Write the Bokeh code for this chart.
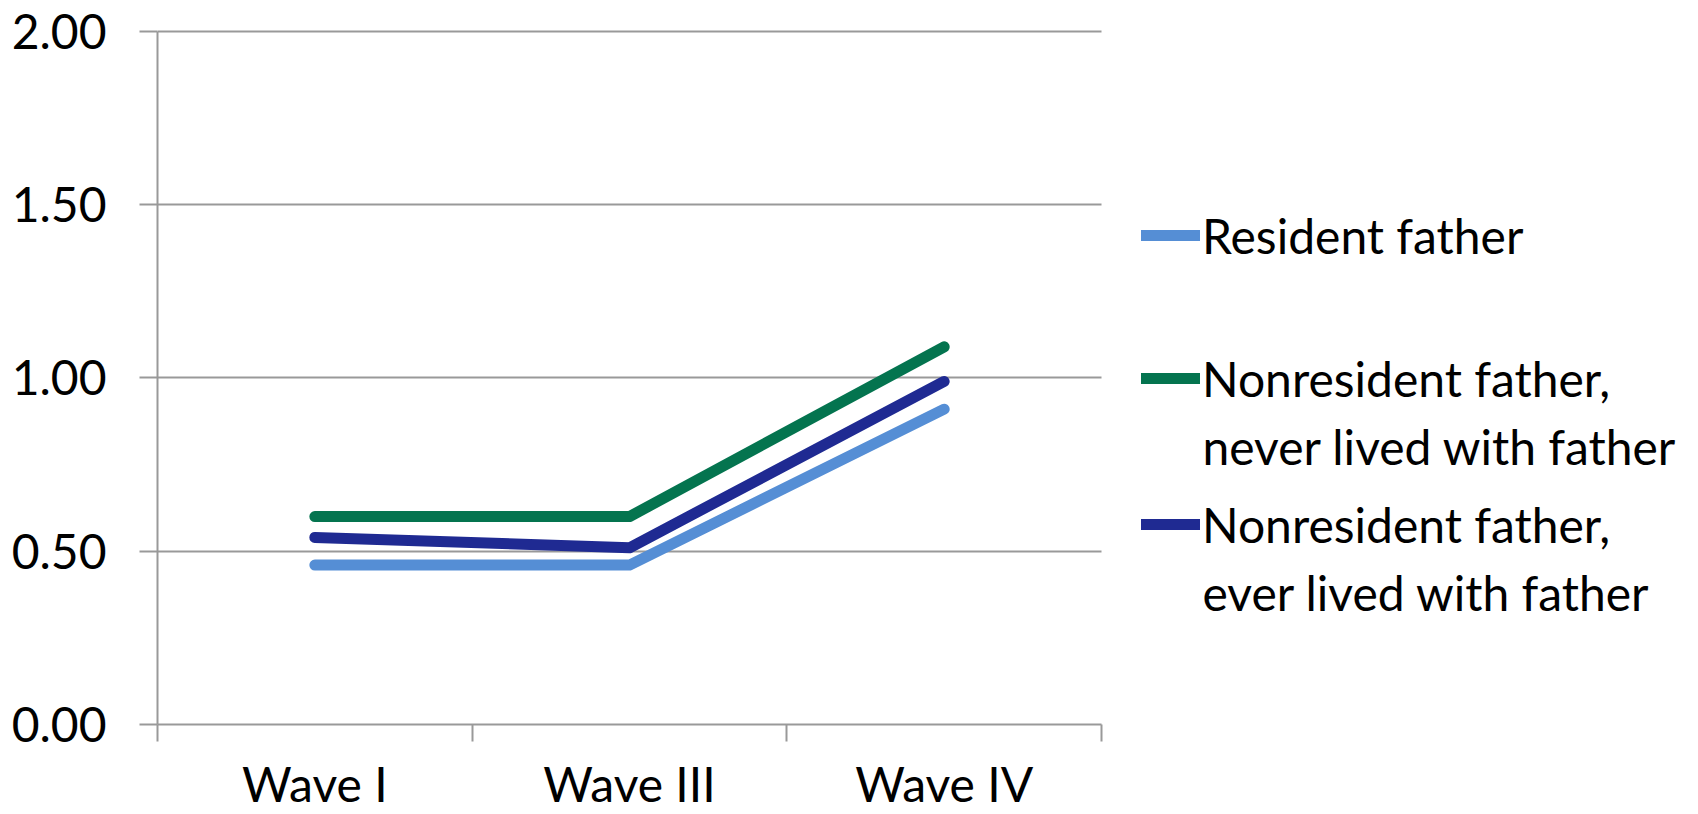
from bokeh.plotting import figure
from bokeh.models import Range1d, FixedTicker, Legend, LegendItem, Label, NumeralTickFormatter
from bokeh.embed import file_html
from bokeh.resources import INLINE

# Mean scores by survey wave for each father-residence group
waves = ["Wave I", "Wave III", "Wave IV"]
resident = [0.46, 0.46, 0.91]
never_lived = [0.60, 0.60, 1.09]
ever_lived = [0.54, 0.51, 0.99]
y_ticks = [0.0, 0.5, 1.0, 1.5, 2.0]

series = [
    (["Resident father"], resident, "#558ED5"),
    (["Nonresident father,", "never lived with father"], never_lived, "#04744F"),
    (["Nonresident father,", "ever lived with father"], ever_lived, "#1F2A92"),
]

FONT = "Lato"
FS = "48px"
GRID = "#999999"
LINE_W = 11

# layout (screen px)
W, H = 1698, 814
LEFT, TOP, BOTTOM = 157, 31, 88
PAD_TOP = 4                       # keeps the top gridline off the frame edge
PLOT_W = 944                      # width of the charted band area
PLOT_H = H - TOP - BOTTOM
FRAME_W = W - LEFT                # frame runs to the right edge to host the legend

n = len(waves)
xs = [i + 0.5 for i in range(n)]      # categories at band centres
x_end = n * FRAME_W / PLOT_W
y_max = max(y_ticks)
y_end = y_max * (PLOT_H + PAD_TOP) / PLOT_H

p = figure(width=W, height=H,
           x_range=Range1d(0, x_end), y_range=Range1d(0, y_end),
           output_backend="svg", toolbar_location=None,
           min_border_left=LEFT, min_border_right=0,
           min_border_top=TOP - PAD_TOP, min_border_bottom=BOTTOM)
p.outline_line_color = None
p.background_fill_color = "white"
p.border_fill_color = "white"

# x axis: labels at band centres, tick marks at band boundaries
p.xaxis.bounds = (0, n)
p.xaxis.ticker = FixedTicker(ticks=xs, minor_ticks=list(range(n + 1)))
p.xaxis.major_label_overrides = {x: w for x, w in zip(xs, waves)}
p.xaxis.major_tick_line_color = None
p.xaxis.minor_tick_line_color = GRID
p.xaxis.minor_tick_line_width = 2
p.xaxis.minor_tick_out = 17
p.xaxis.minor_tick_in = 0
p.xaxis.axis_line_color = GRID
p.xaxis.axis_line_width = 2
p.xaxis.major_label_text_font = FONT
p.xaxis.major_label_text_font_size = FS
p.xaxis.major_label_text_color = "black"
p.xaxis.major_label_standoff = 13

# y axis
p.yaxis.bounds = (0, y_max)
p.yaxis.ticker = FixedTicker(ticks=y_ticks, minor_ticks=[])
p.yaxis.formatter = NumeralTickFormatter(format="0.00")
p.yaxis.major_tick_line_color = GRID
p.yaxis.major_tick_line_width = 2
p.yaxis.major_tick_out = 18
p.yaxis.major_tick_in = 0
p.yaxis.axis_line_color = GRID
p.yaxis.axis_line_width = 2
p.yaxis.major_label_text_font = FONT
p.yaxis.major_label_text_font_size = FS
p.yaxis.major_label_text_color = "black"
p.yaxis.major_label_standoff = 33

p.xgrid.grid_line_color = None
p.ygrid.ticker = FixedTicker(ticks=y_ticks, minor_ticks=[])
p.ygrid.cross_bounds = (0, n)
p.ygrid.grid_line_color = GRID
p.ygrid.grid_line_width = 2

renderers = []
for lines, vals, color in series:
    r = p.line(xs, vals, line_color=color, line_width=LINE_W,
               line_cap="round", line_join="round")
    renderers.append(r)

# legend, one block per series; continuation lines added as labels
entry_centres = [237, 380, 526]   # screen px from top
line_gap = 68
item_h = 58
frame_bottom = H - BOTTOM
for (lines, vals, color), r, cy in zip(series, renderers, entry_centres):
    lg = Legend(items=[LegendItem(label=lines[0], renderers=[r])],
                location=(1141 - LEFT, frame_bottom - cy - item_h // 2),
                padding=0, margin=0, spacing=0,
                border_line_color=None, background_fill_alpha=0,
                glyph_width=59, glyph_height=item_h, label_height=item_h,
                label_standoff=2,
                label_text_font=FONT, label_text_font_size=FS,
                label_text_color="black")
    p.add_layout(lg, "center")
    for k, extra in enumerate(lines[1:], start=1):
        p.add_layout(Label(x=1202 - LEFT, y=frame_bottom - (cy + k * line_gap),
                           x_units="screen", y_units="screen", text=extra,
                           text_font=FONT, text_font_size=FS, text_color="black",
                           text_baseline="middle", text_align="left"))

open("out.html", "w").write(file_html(p, INLINE))
